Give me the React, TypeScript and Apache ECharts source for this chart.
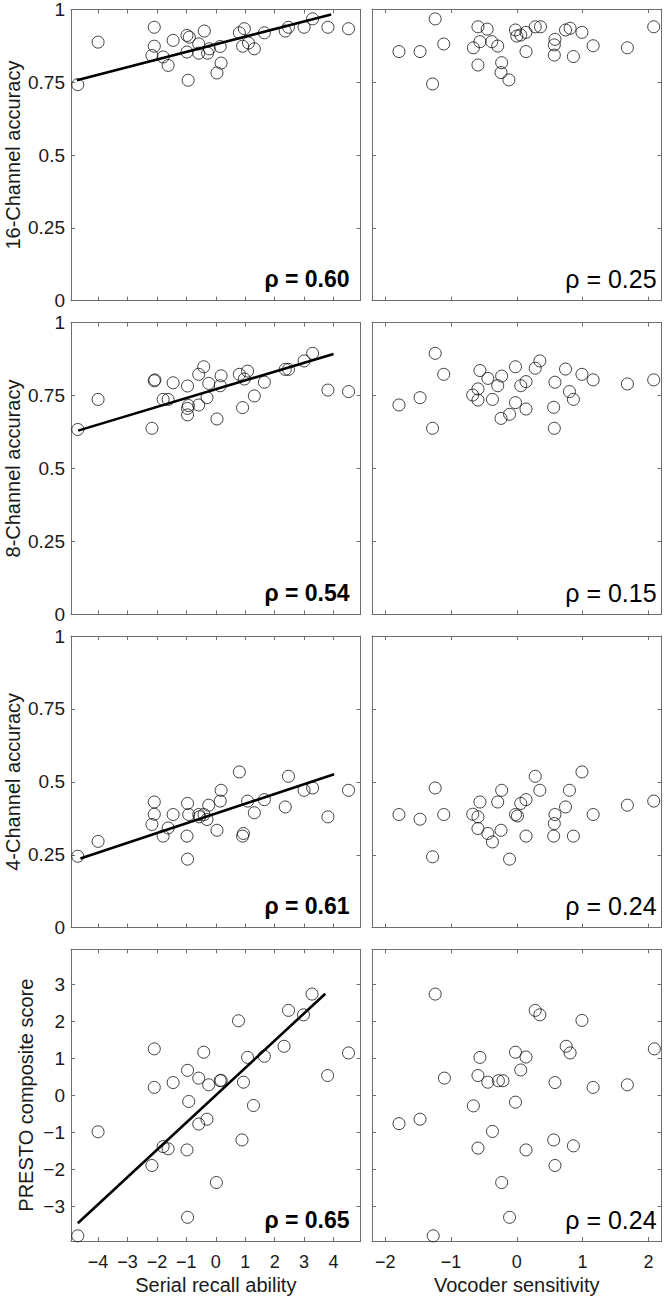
import React, { useEffect, useRef } from "react";
import * as echarts from "echarts";

// ---------- tick labels / categories ----------
const recallTicks = [-4, -3, -2, -1, 0, 1, 2, 3, 4];
const vocoderTicks = [-2, -1, 0, 1, 2];
const accuracyTicks = [0, 0.25, 0.5, 0.75, 1];
const prestoTicks = [-3, -2, -1, 0, 1, 2, 3];

const rowNames = ["16-Channel accuracy", "8-Channel accuracy", "4-Channel accuracy", "PRESTO composite score"];
const colNames = ["Serial recall ability", "Vocoder sensitivity"];
const rhoLeft = ["ρ = 0.60", "ρ = 0.54", "ρ = 0.61", "ρ = 0.65"];
const rhoRight = ["ρ = 0.25", "ρ = 0.15", "ρ = 0.24", "ρ = 0.24"];

// ---------- data: [x, y] ----------
const acc16VsRecall = [
  [-4.69, 0.742], [-4.0, 0.888], [-2.09, 0.939], [-2.09, 0.874], [-2.17, 0.842], [-1.79, 0.837],
  [-1.62, 0.808], [-1.45, 0.894], [-0.98, 0.911], [-0.9, 0.905], [-0.98, 0.854], [-0.94, 0.757],
  [-0.58, 0.882], [-0.58, 0.85], [-0.39, 0.926], [-0.28, 0.85], [-0.22, 0.865], [0.15, 0.873],
  [0.18, 0.816], [0.04, 0.782], [0.8, 0.92], [0.97, 0.934], [0.91, 0.874], [1.11, 0.885],
  [1.31, 0.865], [1.65, 0.92], [2.36, 0.926], [2.47, 0.939], [3.0, 0.939], [3.29, 0.968],
  [3.81, 0.939], [4.51, 0.934],
];
const acc16VsVocoder = [
  [-1.24, 0.966], [-1.79, 0.854], [-1.47, 0.854], [-1.11, 0.88], [-1.28, 0.743], [-0.59, 0.939],
  [-0.45, 0.931], [-0.66, 0.867], [-0.56, 0.888], [-0.38, 0.888], [-0.29, 0.873], [-0.59, 0.808],
  [-0.23, 0.816], [-0.24, 0.782], [-0.12, 0.757], [-0.02, 0.928], [0.0, 0.907], [0.06, 0.911],
  [0.14, 0.92], [0.14, 0.854], [0.28, 0.939], [0.36, 0.939], [0.58, 0.896], [0.57, 0.877],
  [0.57, 0.842], [0.74, 0.928], [0.81, 0.934], [0.99, 0.92], [0.86, 0.837], [1.16, 0.874],
  [1.68, 0.867], [2.08, 0.939],
];
const acc8VsRecall = [
  [-4.69, 0.634], [-4.0, 0.737], [-2.09, 0.801], [-2.07, 0.804], [-2.17, 0.638], [-1.79, 0.737],
  [-1.62, 0.737], [-1.45, 0.794], [-0.96, 0.783], [-0.96, 0.706], [-0.93, 0.716], [-0.96, 0.684],
  [-0.58, 0.823], [-0.58, 0.718], [-0.41, 0.849], [-0.24, 0.792], [-0.3, 0.743], [0.18, 0.818],
  [0.15, 0.784], [0.04, 0.67], [0.8, 0.823], [0.97, 0.807], [1.08, 0.834], [0.91, 0.709],
  [1.31, 0.749], [1.65, 0.796], [2.36, 0.84], [2.47, 0.84], [3.0, 0.869], [3.29, 0.895],
  [3.81, 0.769], [4.51, 0.764],
];
const acc8VsVocoder = [
  [-1.24, 0.895], [-1.11, 0.823], [-1.47, 0.743], [-1.79, 0.718], [-1.28, 0.638], [-0.56, 0.836],
  [-0.44, 0.809], [-0.59, 0.773], [-0.67, 0.752], [-0.59, 0.735], [-0.37, 0.737], [-0.29, 0.784],
  [-0.23, 0.817], [-0.02, 0.849], [0.06, 0.784], [0.14, 0.798], [-0.02, 0.726], [0.14, 0.704],
  [-0.11, 0.686], [-0.24, 0.672], [0.28, 0.844], [0.35, 0.869], [0.58, 0.796], [0.56, 0.71],
  [0.57, 0.638], [0.74, 0.841], [0.8, 0.764], [0.86, 0.737], [0.99, 0.823], [1.16, 0.804],
  [1.68, 0.79], [2.08, 0.804],
];
const acc4VsRecall = [
  [-4.69, 0.245], [-4.0, 0.296], [-2.09, 0.431], [-2.09, 0.389], [-2.17, 0.354], [-1.79, 0.314],
  [-1.62, 0.342], [-1.45, 0.388], [-0.96, 0.426], [-0.92, 0.388], [-0.98, 0.314], [-0.96, 0.235],
  [-0.58, 0.388], [-0.4, 0.388], [-0.3, 0.371], [-0.24, 0.42], [-0.55, 0.38], [0.18, 0.471],
  [0.15, 0.434], [0.04, 0.334], [0.8, 0.534], [1.08, 0.434], [0.94, 0.323], [0.91, 0.314],
  [1.31, 0.394], [1.65, 0.439], [2.36, 0.414], [2.47, 0.519], [3.0, 0.471], [3.29, 0.479],
  [3.81, 0.38], [4.51, 0.471],
];
const acc4VsVocoder = [
  [-1.24, 0.479], [-1.79, 0.388], [-1.47, 0.372], [-1.11, 0.388], [-1.28, 0.243], [-0.56, 0.431],
  [-0.67, 0.389], [-0.59, 0.38], [-0.59, 0.34], [-0.44, 0.323], [-0.37, 0.294], [-0.29, 0.431],
  [-0.23, 0.471], [-0.24, 0.334], [-0.02, 0.388], [0.06, 0.426], [0.14, 0.439], [0.14, 0.314],
  [-0.11, 0.235], [0.28, 0.519], [0.35, 0.471], [0.58, 0.388], [0.57, 0.357], [0.56, 0.314],
  [0.74, 0.414], [0.8, 0.471], [0.86, 0.314], [0.99, 0.534], [1.16, 0.388], [1.68, 0.42],
  [2.08, 0.434], [0.01, 0.383],
];
const prestoVsRecall = [
  [-4.69, -3.8], [-4.0, -0.99], [-2.09, 1.25], [-2.09, 0.21], [-2.17, -1.9], [-1.79, -1.39],
  [-1.62, -1.45], [-1.45, 0.34], [-0.96, 0.67], [-0.92, -0.17], [-0.98, -1.48], [-0.96, -3.3],
  [-0.58, 0.46], [-0.58, -0.78], [-0.41, 1.16], [-0.3, -0.65], [-0.24, 0.28], [0.15, 0.39],
  [0.18, 0.4], [0.02, -2.36], [0.77, 2.01], [0.94, 0.35], [0.89, -1.21], [1.08, 1.02],
  [1.28, -0.28], [1.65, 1.05], [2.32, 1.32], [2.47, 2.29], [2.98, 2.17], [3.27, 2.73],
  [3.8, 0.53], [4.51, 1.14],
];
const prestoVsVocoder = [
  [-1.24, 2.73], [0.28, 2.29], [0.35, 2.17], [0.99, 2.02], [0.75, 1.32], [0.81, 1.14],
  [2.09, 1.25], [-0.02, 1.16], [0.14, 1.03], [-0.56, 1.02], [0.06, 0.68], [-1.1, 0.46],
  [-0.59, 0.53], [-0.44, 0.35], [-0.28, 0.39], [-0.21, 0.39], [0.58, 0.34], [1.16, 0.21],
  [1.68, 0.28], [-0.02, -0.19], [-0.66, -0.29], [-1.79, -0.77], [-1.47, -0.65], [-0.37, -0.98],
  [0.56, -1.21], [0.86, -1.37], [-0.59, -1.43], [0.14, -1.48], [0.58, -1.9], [-0.23, -2.36],
  [-0.11, -3.3], [-1.27, -3.8],
];

// regression lines (left column only): endpoints [x, y]
const fit16 = [[-4.72, 0.757], [3.92, 0.983]];
const fit8 = [[-4.68, 0.63], [4.0, 0.893]];
const fit4 = [[-4.6, 0.237], [4.02, 0.526]];
const fitPresto = [[-4.69, -3.46], [3.72, 2.74]];

const leftData = [acc16VsRecall, acc8VsRecall, acc4VsRecall, prestoVsRecall];
const rightData = [acc16VsVocoder, acc8VsVocoder, acc4VsVocoder, prestoVsVocoder];
const fits = [fit16, fit8, fit4, fitPresto];

export default function App() {
  const ref = useRef<HTMLDivElement>(null);
  useEffect(() => {
    if (!ref.current) return;
    const chart = echarts.init(ref.current, undefined, { renderer: "svg" });

    const font = "'Liberation Sans', Arial, Helvetica, sans-serif";
    const textColor = "#1a1a1a";
    const boxColor = "#6e6e6e";
    const colLeft = [71, 372];
    const colWidth = 289.6;
    const rowTop = [9, 322.7, 636, 949.3];
    const rowHeight = 291.7;
    const minus = (v: number) => String(v).replace("-", "\u2212");

    const grids: any[] = [];
    const xAxes: any[] = [];
    const yAxes: any[] = [];
    const series: any[] = [];
    const graphics: any[] = [];

    for (let r = 0; r < 4; r++) {
      for (let c = 0; c < 2; c++) {
        const i = r * 2 + c;
        grids.push({ left: colLeft[c], top: rowTop[r], width: colWidth, height: rowHeight, containLabel: false });
        const xTicks = c === 0 ? recallTicks : vocoderTicks;
        const xMin = c === 0 ? -4.92 : -2.2;
        const xMax = c === 0 ? 4.92 : 2.2;
        const yTicks = r === 3 ? prestoTicks : accuracyTicks;
        const yMin = r === 3 ? -3.94 : 0;
        const yMax = r === 3 ? 3.94 : 1;
        const line = { show: true, onZero: false, lineStyle: { color: boxColor, width: 1 } };
        const tick = (vals: number[]) => ({
          show: true, inside: true, length: 4, customValues: vals,
          lineStyle: { color: boxColor, width: 1 },
        });
        const nameStyle = { fontSize: 20, color: textColor, fontFamily: font };

        xAxes.push({
          type: "value", gridIndex: i, position: "bottom", min: xMin, max: xMax,
          axisLine: line, axisTick: tick(xTicks), splitLine: { show: false },
          axisLabel: {
            show: r === 3, customValues: xTicks, formatter: minus, margin: 12,
            fontSize: 18, color: textColor, fontFamily: font,
          },
          name: r === 3 ? colNames[c] : "", nameLocation: "middle", nameGap: 34, nameTextStyle: nameStyle,
        });
        xAxes.push({
          type: "value", gridIndex: i, position: "top", min: xMin, max: xMax,
          axisLine: line, axisTick: tick(xTicks), splitLine: { show: false },
          axisLabel: { show: false },
        });
        yAxes.push({
          type: "value", gridIndex: i, position: "left", min: yMin, max: yMax,
          axisLine: line, axisTick: tick(yTicks), splitLine: { show: false },
          axisLabel: {
            show: c === 0, customValues: yTicks, formatter: minus, margin: 6,
            fontSize: 19, color: textColor, fontFamily: font,
          },
          name: c === 0 ? rowNames[r] : "", nameLocation: "middle", nameGap: r === 3 ? 35 : 48,
          nameTextStyle: nameStyle,
        });
        yAxes.push({
          type: "value", gridIndex: i, position: "right", min: yMin, max: yMax,
          axisLine: line, axisTick: tick(yTicks), splitLine: { show: false },
          axisLabel: { show: false },
        });

        series.push({
          type: "scatter", xAxisIndex: i * 2, yAxisIndex: i * 2,
          data: c === 0 ? leftData[r] : rightData[r],
          symbol: "circle", symbolSize: 12, silent: true,
          itemStyle: { color: "rgba(0,0,0,0)", borderColor: "#111", borderWidth: 1 },
          z: 2,
        });
        if (c === 0) {
          series.push({
            type: "line", xAxisIndex: i * 2, yAxisIndex: i * 2, data: fits[r],
            symbol: "none", silent: true, lineStyle: { color: "#000", width: 2.6 }, z: 3,
          });
        }

        const bottom = rowTop[r] + rowHeight;
        const right = colLeft[c] + colWidth;
        graphics.push({
          type: "text",
          x: c === 0 ? right - 11 : right - 5,
          y: bottom - 21.5,
          style: {
            text: c === 0 ? rhoLeft[r] : rhoRight[r],
            fill: "#000",
            fontFamily: font,
            fontSize: c === 0 ? 23 : 25,
            fontWeight: c === 0 ? "bold" : "normal",
            align: "right",
            verticalAlign: "middle",
          },
          z: 10,
        });
      }
    }

    chart.setOption({
      animation: false,
      backgroundColor: "#ffffff",
      grid: grids,
      xAxis: xAxes,
      yAxis: yAxes,
      series,
      graphic: graphics,
    });
    return () => chart.dispose();
  }, []);

  return (
    <div
      ref={ref}
      style={{ position: "absolute", left: 0, top: 0, width: 664, height: 1302, background: "#fff" }}
    />
  );
}
